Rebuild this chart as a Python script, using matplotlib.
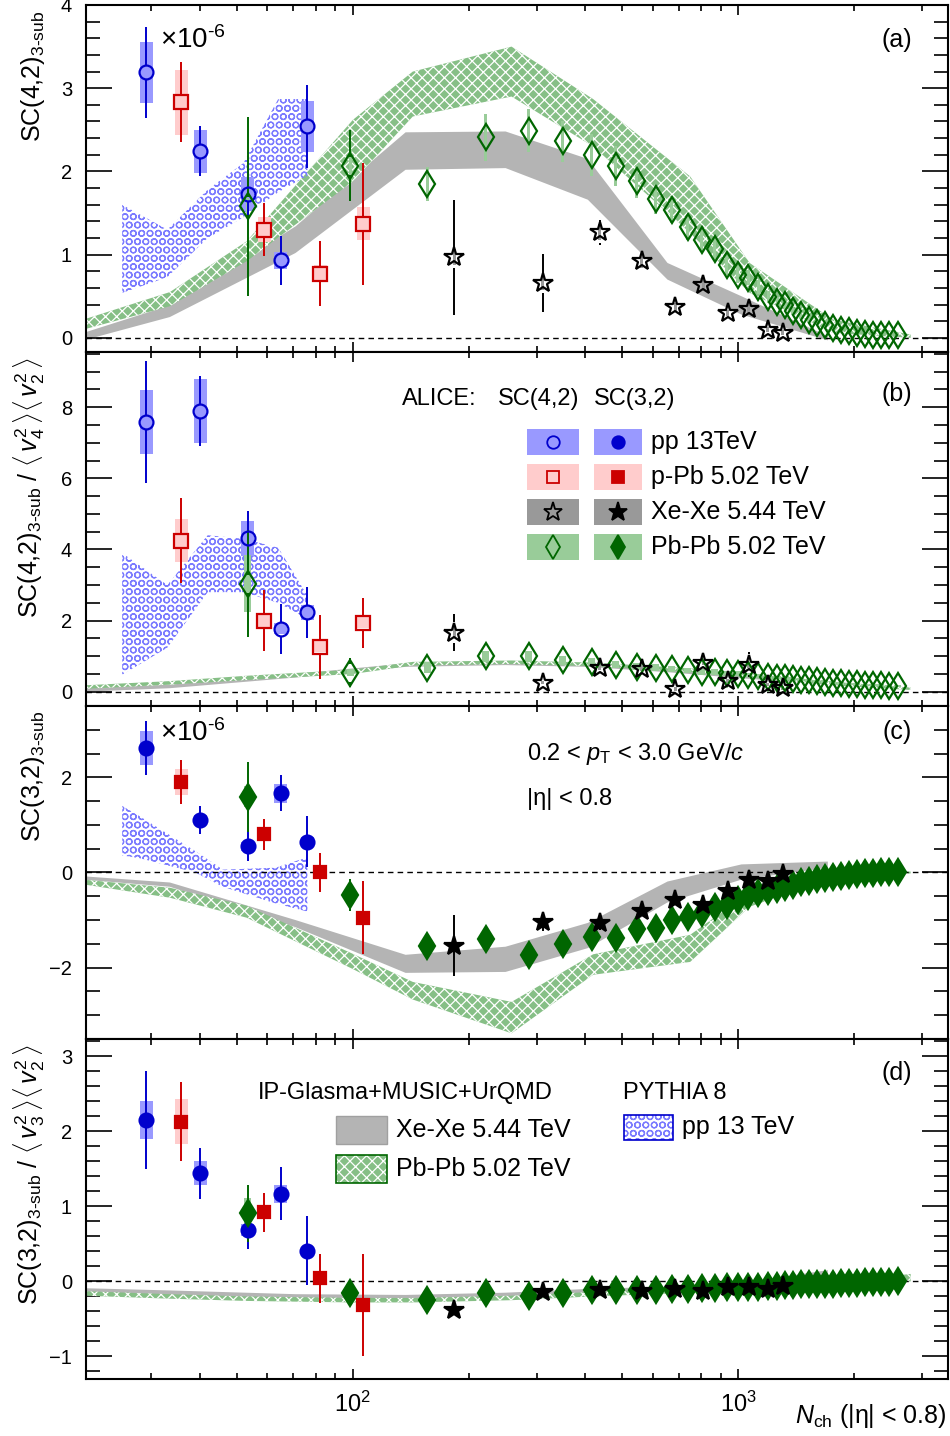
import matplotlib
matplotlib.use("Agg")
import matplotlib.pyplot as plt
from matplotlib.patches import Rectangle
from matplotlib.lines import Line2D
from matplotlib.ticker import LogLocator, MultipleLocator, NullFormatter, FixedLocator

plt.rcParams["font.family"] = ["Liberation Sans", "DejaVu Sans"]
plt.rcParams["mathtext.fontset"] = "custom"
plt.rcParams["mathtext.rm"] = "Liberation Sans"
plt.rcParams["mathtext.it"] = "Liberation Sans:italic"
plt.rcParams["mathtext.bf"] = "Liberation Sans:bold"
plt.rcParams["hatch.linewidth"] = 0.9

# ---- x positions (N_ch) ----
pp_x = [29.1, 40.2, 53.4, 64.9, 76.2]
ppb_x = [35.9, 58.9, 82.4, 106.5]
xexe_x = [183, 311, 437, 561, 687, 812, 938, 1064, 1192, 1306]
pbpb_x = [53.3, 98.5, 156, 221, 286, 350, 416, 481, 545, 611, 671, 740, 804, 869, 933,
          997, 1060, 1127, 1196, 1261, 1323, 1385, 1453, 1525, 1599, 1677, 1760, 1846,
          1936, 2032, 2131, 2236, 2345, 2460, 2596]

# ---- (a) SC(4,2) ----
a_pp = [3.19, 2.24, 1.73, 0.93, 2.54]
a_pp_stat = [0.55, 0.30, 0.30, 0.30, 0.50]
a_pp_syst = [0.37, 0.26, 0.20, 0.10, 0.31]
a_ppb = [2.83, 1.30, 0.77, 1.37]
a_ppb_stat = [0.48, 0.32, 0.39, 0.73]
a_ppb_syst = [0.39, 0.15, 0.10, 0.20]
a_xe = [0.97, 0.66, 1.27, 0.92, 0.37, 0.64, 0.30, 0.35, 0.10, 0.06]
a_xe_stat = [0.69, 0.35, 0.15, 0.10, 0.08, 0.08, 0.07, 0.07, 0.06, 0.06]
a_xe_syst = [0.10, 0.08, 0.10, 0.08, 0.05, 0.06, 0.04, 0.05, 0.03, 0.03]
a_pb = [1.58, 2.07, 1.85, 2.41, 2.49, 2.36, 2.20, 2.07, 1.88, 1.67, 1.54, 1.33, 1.17, 1.07, 0.87,
        0.76, 0.72, 0.61, 0.49, 0.43, 0.39, 0.32, 0.27, 0.22, 0.18, 0.15, 0.12, 0.10,
        0.08, 0.06, 0.05, 0.04, 0.03, 0.03, 0.03]
a_pb_stat = [1.08, 0.43, 0.10, 0.08, 0.06, 0.05, 0.05, 0.04, 0.04, 0.04, 0.03, 0.03, 0.03, 0.03, 0.03,
             0.03, 0.03, 0.03, 0.02, 0.02, 0.02, 0.02, 0.02, 0.02, 0.02, 0.02, 0.02, 0.02,
             0.02, 0.02, 0.02, 0.02, 0.02, 0.02, 0.02]
a_pb_syst = [0.10, 0.20, 0.20, 0.28, 0.26, 0.25, 0.25, 0.24, 0.20, 0.18, 0.16, 0.15, 0.14, 0.13, 0.11,
             0.10, 0.09, 0.08, 0.07, 0.06, 0.05, 0.05, 0.04, 0.04, 0.03, 0.03, 0.03, 0.02,
             0.02, 0.02, 0.02, 0.02, 0.02, 0.02, 0.02]

# ---- (b) normalised SC(4,2) ----
b_pp = [7.58, 7.89, 4.31, 1.77, 2.23]
b_pp_stat = [1.72, 0.98, 0.76, 0.71, 0.71]
b_pp_syst = [0.89, 0.90, 0.50, 0.15, 0.20]
b_ppb = [4.25, 2.00, 1.27, 1.94]
b_ppb_stat = [1.20, 0.85, 0.90, 0.70]
b_ppb_syst = [0.61, 0.20, 0.15, 0.15]
b_xe = [1.66, 0.26, 0.68, 0.65, 0.08, 0.82, 0.31, 0.76, 0.20, 0.11]
b_xe_stat = [0.52, 0.15, 0.20, 0.15, 0.15, 0.20, 0.15, 0.35, 0.15, 0.10]
b_xe_syst = [0.15, 0.05, 0.08, 0.08, 0.05, 0.08, 0.05, 0.08, 0.05, 0.05]
b_pb = [3.04, 0.54, 0.68, 1.00, 1.00, 0.88, 0.84, 0.76, 0.70, 0.68, 0.64, 0.60, 0.56, 0.55, 0.52,
        0.50, 0.47, 0.45, 0.42, 0.40, 0.38, 0.36, 0.34, 0.32, 0.30, 0.28, 0.26, 0.24,
        0.22, 0.21, 0.20, 0.19, 0.18, 0.17, 0.16]
b_pb_stat = [1.50, 0.40, 0.10, 0.08, 0.07, 0.06, 0.05, 0.05, 0.05, 0.04, 0.04, 0.04, 0.04, 0.04, 0.03,
             0.03, 0.03, 0.03, 0.03, 0.03, 0.03, 0.03, 0.03, 0.03, 0.03, 0.03, 0.03, 0.03,
             0.03, 0.03, 0.03, 0.03, 0.03, 0.03, 0.03]
b_pb_syst = [0.80, 0.10, 0.15, 0.15, 0.15, 0.12, 0.12, 0.10, 0.10, 0.09, 0.09, 0.08, 0.08, 0.08, 0.07,
             0.07, 0.06, 0.06, 0.06, 0.05, 0.05, 0.05, 0.05, 0.04, 0.04, 0.04, 0.04, 0.04,
             0.03, 0.03, 0.03, 0.03, 0.03, 0.03, 0.03]

# ---- (c) SC(3,2) ----
c_pp = [2.62, 1.10, 0.55, 1.67, 0.65]
c_pp_stat = [0.57, 0.30, 0.30, 0.38, 0.54]
c_pp_syst = [0.36, 0.10, 0.10, 0.20, 0.10]
c_ppb = [1.90, 0.80, 0.00, -0.95]
c_ppb_stat = [0.47, 0.33, 0.41, 0.77]
c_ppb_syst = [0.27, 0.10, 0.10, 0.15]
c_xe = [-1.54, -1.04, -1.06, -0.80, -0.57, -0.68, -0.38, -0.15, -0.17, -0.04]
c_xe_stat = [0.64, 0.20, 0.15, 0.10, 0.08, 0.08, 0.06, 0.05, 0.05, 0.05]
c_xe_syst = [0.10, 0.06, 0.06, 0.05, 0.04, 0.04, 0.03, 0.03, 0.03, 0.03]
c_pb = [1.59, -0.47, -1.54, -1.40, -1.74, -1.50, -1.35, -1.37, -1.18, -1.16, -0.99, -0.93, -0.85,
        -0.72, -0.68, -0.57, -0.50, -0.44, -0.39, -0.35, -0.31, -0.26, -0.21, -0.17, -0.14,
        -0.11, -0.09, -0.07, -0.05, -0.03, -0.02, -0.01, 0.00, 0.01, 0.01]
c_pb_stat = [0.74, 0.33, 0.08, 0.06, 0.05, 0.05, 0.04, 0.04, 0.04, 0.03, 0.03, 0.03, 0.03, 0.03, 0.03,
             0.02, 0.02, 0.02, 0.02, 0.02, 0.02, 0.02, 0.02, 0.02, 0.02, 0.02, 0.02, 0.02,
             0.02, 0.02, 0.02, 0.02, 0.02, 0.02, 0.02]
c_pb_syst = [0.22, 0.08, 0.10, 0.10, 0.10, 0.08, 0.08, 0.08, 0.07, 0.07, 0.06, 0.06, 0.05, 0.05, 0.05,
             0.04, 0.04, 0.04, 0.03, 0.03, 0.03, 0.03, 0.02, 0.02, 0.02, 0.02, 0.02, 0.02,
             0.02, 0.02, 0.02, 0.02, 0.02, 0.02, 0.02]

# ---- (d) normalised SC(3,2) ----
d_pp = [2.15, 1.44, 0.68, 1.17, 0.41]
d_pp_stat = [0.65, 0.34, 0.25, 0.35, 0.46]
d_pp_syst = [0.25, 0.16, 0.08, 0.12, 0.05]
d_ppb = [2.13, 0.92, 0.04, -0.32]
d_ppb_stat = [0.53, 0.26, 0.33, 0.68]
d_ppb_syst = [0.30, 0.06, 0.05, 0.05]
d_xe = [-0.38, -0.14, -0.12, -0.13, -0.10, -0.13, -0.08, -0.08, -0.10, -0.06]
d_xe_stat = [0.06, 0.04, 0.04, 0.03, 0.03, 0.03, 0.03, 0.03, 0.03, 0.03]
d_xe_syst = [0.03, 0.02, 0.02, 0.02, 0.02, 0.02, 0.02, 0.02, 0.02, 0.02]
d_pb = [0.91, -0.15, -0.25, -0.15, -0.20, -0.15, -0.12, -0.12, -0.11, -0.11, -0.10, -0.10, -0.09,
        -0.09, -0.08, -0.08, -0.07, -0.07, -0.06, -0.06, -0.05, -0.05, -0.04, -0.04, -0.03,
        -0.03, -0.03, -0.02, -0.02, -0.02, -0.01, -0.01, -0.01, -0.01, 0.00]
d_pb_stat = [0.38, 0.10, 0.05, 0.03, 0.03, 0.03, 0.02, 0.02, 0.02, 0.02, 0.02, 0.02, 0.02, 0.02, 0.02,
             0.02, 0.02, 0.02, 0.02, 0.02, 0.02, 0.02, 0.02, 0.02, 0.02, 0.02, 0.02, 0.02,
             0.02, 0.02, 0.02, 0.02, 0.02, 0.02, 0.02]
d_pb_syst = [0.20, 0.04, 0.03, 0.03, 0.03, 0.03, 0.02, 0.02, 0.02, 0.02, 0.02, 0.02, 0.02, 0.02, 0.02,
             0.02, 0.02, 0.02, 0.02, 0.02, 0.02, 0.02, 0.02, 0.02, 0.02, 0.02, 0.02, 0.02,
             0.02, 0.02, 0.02, 0.02, 0.02, 0.02, 0.02]

# ---- model bands ----
glasma_xe_x = [20, 33.5, 71, 137, 249, 407, 655, 1019, 1707]
a_xe_lo = [-0.03, 0.25, 1.02, 2.02, 2.04, 1.66, 0.70, 0.28, -0.03]
a_xe_hi = [0.06, 0.39, 1.34, 2.47, 2.48, 2.15, 0.90, 0.50, 0.02]
b_xe_lo = [0.00, 0.10, 0.40, 0.70, 0.75, 0.70, 0.55, 0.38, 0.20]
b_xe_hi = [0.10, 0.20, 0.50, 0.80, 0.85, 0.80, 0.66, 0.48, 0.30]
c_xe_lo = [-0.15, -0.30, -1.15, -2.11, -2.09, -1.59, -0.63, -0.15, 0.10]
c_xe_hi = [-0.08, -0.21, -1.00, -1.73, -1.56, -1.06, -0.19, 0.17, 0.23]
d_xe_lo = [-0.15, -0.18, -0.23, -0.24, -0.21, -0.16, -0.12, -0.08, 0.08]
d_xe_hi = [-0.09, -0.12, -0.17, -0.18, -0.15, -0.10, -0.07, -0.02, 0.15]

glasma_pb_x = [20, 33.5, 53, 100, 143, 258, 420, 750, 1070, 1760, 2800]
a_pbm_lo = [0.10, 0.38, 0.92, 1.88, 2.66, 2.90, 2.30, 1.26, 0.54, 0.06, 0.00]
a_pbm_hi = [0.22, 0.55, 1.16, 2.62, 3.20, 3.50, 2.87, 1.94, 0.90, 0.22, 0.04]
b_pbm_lo = [0.08, 0.20, 0.33, 0.50, 0.74, 0.78, 0.72, 0.56, 0.40, 0.18, 0.05]
b_pbm_hi = [0.18, 0.30, 0.45, 0.62, 0.84, 0.88, 0.82, 0.66, 0.50, 0.28, 0.12]
c_pbm_lo = [-0.25, -0.53, -0.95, -2.03, -2.67, -3.38, -2.15, -1.88, -0.72, -0.10, -0.02]
c_pbm_hi = [-0.15, -0.32, -0.70, -1.71, -2.30, -2.72, -1.72, -1.31, -0.42, -0.03, 0.02]
d_pbm_lo = [-0.19, -0.23, -0.26, -0.28, -0.28, -0.25, -0.20, -0.15, -0.10, -0.05, 0.00]
d_pbm_hi = [-0.13, -0.17, -0.20, -0.22, -0.22, -0.19, -0.14, -0.09, -0.05, -0.01, 0.10]

pythia_ab_x = [25.2, 33, 42, 52, 64, 76.2]
a_py_lo = [0.54, 0.73, 1.20, 1.45, 1.75, 1.95]
a_py_hi = [1.60, 1.30, 1.78, 2.10, 2.87, 2.87]
b_py_lo = [0.48, 1.24, 2.80, 2.80, 2.50, 2.05]
b_py_hi = [3.90, 3.00, 4.40, 4.30, 4.05, 2.70]
pythia_c_x = [25.2, 28, 39, 46, 63, 76.2]
c_py_lo = [0.36, 0.30, 0.00, -0.30, -0.65, -0.82]
c_py_hi = [1.40, 1.18, 0.45, 0.06, 0.10, 0.32]

legend_systems = ["pp 13TeV", "p-Pb 5.02 TeV", "Xe-Xe 5.44 TeV", "Pb-Pb 5.02 TeV"]

# colours
BLUE, RED, GREEN, BLACK = "#0000cc", "#cc0000", "#006600", "black"
BLUE_BOX, RED_BOX, GREEN_BOX, GREY_BOX = "#9999ff", "#ffcccc", "#99cc99", "#999999"
GLASMA_GREEN = "#86bf86"
PYTHIA_BLUE = "#7b7bff"

W, H = 950, 1436
fig = plt.figure(figsize=(W / 100, H / 100), dpi=100)


def fx(px):
    return px / W


def fy(py):
    return 1 - py / H


panel_px = [(5, 352), (352, 706), (706, 1039), (1039, 1379)]
ylims = [(-0.17, 4.0), (-0.4, 9.55), (-3.5, 3.5), (-1.3, 3.23)]
ymaj = [1, 2, 2, 1]
ymin = [0.2, 0.5, 0.5, 0.2]
axes = []
for (top, bot), yl, mj, mn in zip(panel_px, ylims, ymaj, ymin):
    ax = fig.add_axes([fx(86), fy(bot), (948 - 86) / W, (bot - top) / H])
    ax.set_xscale("log")
    ax.set_xlim(20.3, 3500)
    ax.set_ylim(*yl)
    ax.yaxis.set_major_locator(MultipleLocator(mj))
    ax.yaxis.set_minor_locator(MultipleLocator(mn))
    ax.xaxis.set_major_locator(LogLocator(base=10, numticks=10))
    ax.xaxis.set_minor_locator(LogLocator(base=10, subs=range(2, 10), numticks=20))
    ax.xaxis.set_minor_formatter(NullFormatter())
    ax.tick_params(which="both", direction="in", top=True, right=True, width=1.2)
    ax.tick_params(axis="y", which="major", length=19, pad=10, labelsize=14.5)
    ax.tick_params(axis="y", which="minor", length=10)
    ax.tick_params(axis="x", which="major", length=7, pad=9, labelsize=17)
    ax.tick_params(axis="x", which="minor", length=4)
    for s in ax.spines.values():
        s.set_linewidth(1.5)
    ax.axhline(0, color="black", ls=(0, (4, 3)), lw=1.0, zorder=3)
    if bot != 1379:
        ax.tick_params(axis="x", labelbottom=False)
    axes.append(ax)

ax_a, ax_b, ax_c, ax_d = axes
ax_c.yaxis.set_major_locator(FixedLocator([-2, 0, 2]))


def box_factor(px):
    return 10 ** (px / 385.0)


def stat_bars(ax, x, y, err, color, gap_pt):
    y0, y1 = ax.get_ylim()
    h_px = ax.get_position().height * H
    g = gap_pt * 100 / 72 * (y1 - y0) / h_px
    for xi, yi, ei in zip(x, y, err):
        if ei > g:
            ax.vlines(xi, yi + g, yi + ei, color=color, lw=1.4, zorder=6)
            ax.vlines(xi, yi - ei, yi - g, color=color, lw=1.4, zorder=6)


def series(ax, x, y, stat, syst, color, boxc, marker, ms, filled, box_px, gap=True):
    f = box_factor(box_px)
    for xi, yi, sy in zip(x, y, syst):
        ax.add_patch(Rectangle((xi / f, yi - sy), xi * f - xi / f, 2 * sy,
                               facecolor=boxc, edgecolor="none", zorder=5))
    stat_bars(ax, x, y, stat, color, ms / 2 if gap else 0)
    ax.plot(x, y, ls="none", marker=marker, ms=ms, mec=color,
            mfc=color if filled else "none", mew=1.6, zorder=7)


def bands(ax, xe_lo, xe_hi, pb_lo, pb_hi, py_x=None, py_lo=None, py_hi=None):
    ax.fill_between(glasma_xe_x, xe_lo, xe_hi, facecolor="#b4b4b4", edgecolor="none",
                    lw=0, zorder=1)
    ax.fill_between(glasma_pb_x, pb_lo, pb_hi, facecolor=GLASMA_GREEN, edgecolor="white",
                    hatch="xxx", lw=0, zorder=2)
    if py_x is not None:
        ax.fill_between(py_x, py_lo, py_hi, facecolor="none", edgecolor=PYTHIA_BLUE,
                        hatch="OO", lw=0, zorder=2)


# panel (a)
bands(ax_a, a_xe_lo, a_xe_hi, a_pbm_lo, a_pbm_hi, pythia_ab_x, a_py_lo, a_py_hi)
series(ax_a, pp_x, a_pp, a_pp_stat, a_pp_syst, BLUE, BLUE_BOX, "o", 10, False, 6.5)
series(ax_a, ppb_x, a_ppb, a_ppb_stat, a_ppb_syst, RED, RED_BOX, "s", 10, False, 6.5)
series(ax_a, pbpb_x, a_pb, a_pb_stat, a_pb_syst, GREEN, GREEN_BOX, "d", 13, False, 1.5)
series(ax_a, xexe_x, a_xe, a_xe_stat, a_xe_syst, BLACK, GREY_BOX, "*", 15, False, 1.5)

# panel (b)
bands(ax_b, b_xe_lo, b_xe_hi, b_pbm_lo, b_pbm_hi, pythia_ab_x, b_py_lo, b_py_hi)
series(ax_b, pp_x, b_pp, b_pp_stat, b_pp_syst, BLUE, BLUE_BOX, "o", 10, False, 6.5)
series(ax_b, ppb_x, b_ppb, b_ppb_stat, b_ppb_syst, RED, RED_BOX, "s", 10, False, 6.5)
series(ax_b, pbpb_x, b_pb, b_pb_stat, b_pb_syst, GREEN, GREEN_BOX, "d", 13, False, 3.5)
series(ax_b, xexe_x, b_xe, b_xe_stat, b_xe_syst, BLACK, GREY_BOX, "*", 15, False, 1.5)

# panel (c)
bands(ax_c, c_xe_lo, c_xe_hi, c_pbm_lo, c_pbm_hi, pythia_c_x, c_py_lo, c_py_hi)
series(ax_c, pp_x, c_pp, c_pp_stat, c_pp_syst, BLUE, BLUE_BOX, "o", 10, True, 6.5, False)
series(ax_c, ppb_x, c_ppb, c_ppb_stat, c_ppb_syst, RED, RED_BOX, "s", 9, True, 6.5, False)
series(ax_c, pbpb_x, c_pb, c_pb_stat, c_pb_syst, GREEN, GREEN_BOX, "d", 13, True, 3.5, False)
series(ax_c, xexe_x, c_xe, c_xe_stat, c_xe_syst, BLACK, GREY_BOX, "*", 15, True, 1.5, False)

# panel (d)
bands(ax_d, d_xe_lo, d_xe_hi, d_pbm_lo, d_pbm_hi)
series(ax_d, pp_x, d_pp, d_pp_stat, d_pp_syst, BLUE, BLUE_BOX, "o", 10, True, 6.5, False)
series(ax_d, ppb_x, d_ppb, d_ppb_stat, d_ppb_syst, RED, RED_BOX, "s", 9, True, 6.5, False)
series(ax_d, pbpb_x, d_pb, d_pb_stat, d_pb_syst, GREEN, GREEN_BOX, "d", 13, True, 3.5, False)
series(ax_d, xexe_x, d_xe, d_xe_stat, d_xe_syst, BLACK, GREY_BOX, "*", 15, True, 1.5, False)

# y titles
sub = "$_{\\rm 3\u2010sub}$"
ylabels = [
    "SC(4,2)" + sub,
    "SC(4,2)" + sub + r" / $\langle\,v_{4}^{2}\,\rangle\langle\,v_{2}^{2}\,\rangle$",
    "SC(3,2)" + sub,
    "SC(3,2)" + sub + r" / $\langle\,v_{3}^{2}\,\rangle\langle\,v_{2}^{2}\,\rangle$",
]
for ax, lab in zip(axes, ylabels):
    ax.set_ylabel(lab, fontsize=18, loc="top")
    ax.yaxis.set_label_coords(-0.045, 0.985)

# panel tags
for tag, ty in zip(["(a)", "(b)", "(c)", "(d)"], [40, 394, 732, 1073]):
    fig.text(fx(897), fy(ty), tag, fontsize=18, ha="center", va="center")

mult = r"$\times$10" + "$^{\\rm \u20106}$"
fig.text(fx(160), fy(40), mult, fontsize=20, va="center")
fig.text(fx(160), fy(733), mult, fontsize=20, va="center")

# ALICE legend in (b)
fig.text(fx(402), fy(399), "ALICE:", fontsize=17, va="center")
fig.text(fx(498), fy(399), "SC(4,2)", fontsize=17, va="center")
fig.text(fx(594), fy(399), "SC(3,2)", fontsize=17, va="center")
leg_styles = [("o", BLUE, BLUE_BOX, 9), ("s", RED, RED_BOX, 8),
              ("*", BLACK, GREY_BOX, 14), ("d", GREEN, GREEN_BOX, 12)]
for i, (lab, (mk, col, bc, ms)) in enumerate(zip(legend_systems, leg_styles)):
    yc = 442 + 35 * i
    for x0, x1, filled in [(527, 579, False), (594, 642, True)]:
        fig.add_artist(Rectangle((fx(x0), fy(yc + 13)), (x1 - x0) / W, 26 / H,
                                 transform=fig.transFigure, facecolor=bc, edgecolor="none"))
        fig.add_artist(Line2D([fx((x0 + x1) / 2)], [fy(yc)], marker=mk, ms=ms, mec=col,
                              mfc=col if filled else "none", mew=1.3, ls="none",
                              transform=fig.transFigure))
    fig.text(fx(651), fy(yc), lab, fontsize=18, va="center")

# kinematic text in (c)
fig.text(fx(527), fy(754), r"0.2 < $p_{\rm T}$ < 3.0 GeV/$c$", fontsize=17, va="center")
fig.text(fx(527), fy(799), "|\u03b7| < 0.8", fontsize=17, va="center")

# model legend in (d)
fig.text(fx(258), fy(1093), "IP-Glasma+MUSIC+UrQMD", fontsize=17, va="center")
fig.text(fx(623), fy(1093), "PYTHIA 8", fontsize=17, va="center")
fig.add_artist(Rectangle((fx(336), fy(1144)), 51 / W, 28 / H, transform=fig.transFigure,
                         facecolor="#b4b4b4", edgecolor="#a0a0a0", lw=1))
fig.add_artist(Rectangle((fx(336), fy(1183)), 51 / W, 28 / H, transform=fig.transFigure,
                         facecolor=GLASMA_GREEN, edgecolor="white", hatch="xxx", lw=0))
fig.add_artist(Rectangle((fx(336), fy(1183)), 51 / W, 28 / H, transform=fig.transFigure,
                         facecolor="none", edgecolor=GREEN, lw=1.2))
fig.add_artist(Rectangle((fx(624), fy(1140)), 49 / W, 25 / H, transform=fig.transFigure,
                         facecolor="white", edgecolor=PYTHIA_BLUE, hatch="OO", lw=0))
fig.add_artist(Rectangle((fx(624), fy(1140)), 49 / W, 25 / H, transform=fig.transFigure,
                         facecolor="none", edgecolor=BLUE, lw=1.2))
fig.text(fx(396), fy(1130), "Xe-Xe 5.44 TeV", fontsize=18, va="center")
fig.text(fx(396), fy(1169), "Pb-Pb 5.02 TeV", fontsize=18, va="center")
fig.text(fx(682), fy(1127), "pp 13 TeV", fontsize=18, va="center")

# x title
fig.text(fx(947), fy(1416), r"$N_{\rm ch}$" + " (|\u03b7| < 0.8)", fontsize=18, ha="right",
         va="center")

fig.savefig("out.png", dpi=100)
